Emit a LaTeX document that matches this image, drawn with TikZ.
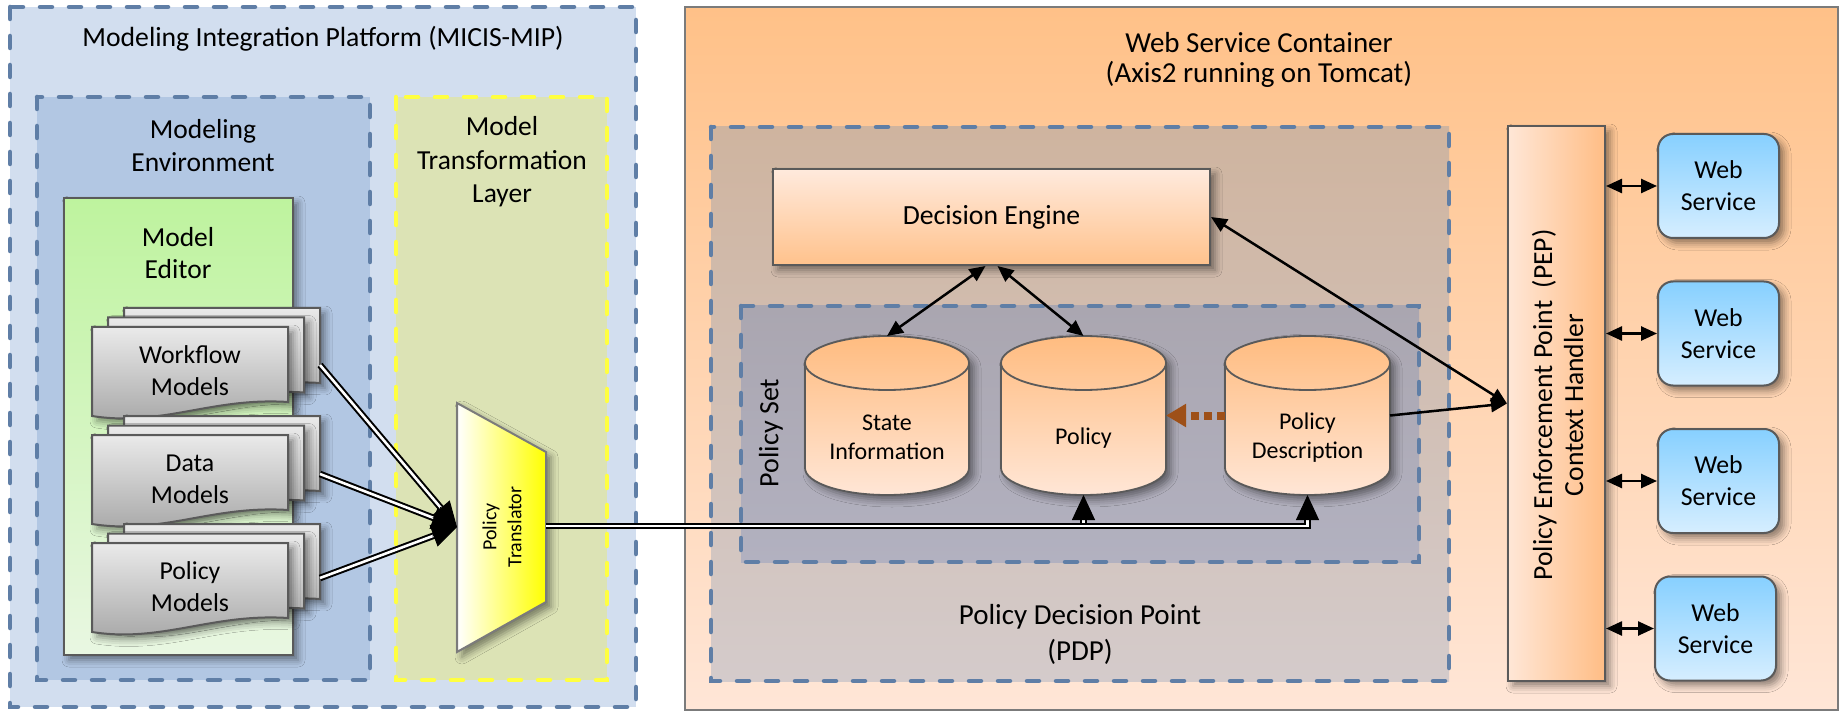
\documentclass[tikz,border=0pt]{standalone}
\usepackage{fontspec}
\setmainfont{Carlito}
\usetikzlibrary{arrows.meta,calc,shadows.blur}
\definecolor{dashblue}{RGB}{95,126,166}
\definecolor{mipfill}{RGB}{210,222,239}
\definecolor{envfill}{RGB}{178,199,227}
\definecolor{mtlfill}{RGB}{220,227,181}
\definecolor{mtlborder}{RGB}{255,255,64}
\definecolor{edtop}{RGB}{190,243,158}
\definecolor{edbot}{RGB}{233,247,226}
\definecolor{wctop}{RGB}{255,193,136}
\definecolor{wcbot}{RGB}{255,230,215}
\definecolor{pdptop}{RGB}{207,180,159}
\definecolor{pdpbot}{RGB}{212,203,203}
\definecolor{pstop}{RGB}{170,166,176}
\definecolor{psbot}{RGB}{178,177,192}
\definecolor{detop}{RGB}{255,234,221}
\definecolor{debot}{RGB}{255,194,140}
\definecolor{cyltop}{RGB}{255,188,128}
\definecolor{cylbot}{RGB}{255,230,214}
\definecolor{peplft}{RGB}{255,231,215}
\definecolor{peprgt}{RGB}{255,189,133}
\definecolor{wstop}{RGB}{135,208,255}
\definecolor{wsbot}{RGB}{214,238,255}
\definecolor{doctop}{RGB}{234,234,234}
\definecolor{docbot}{RGB}{165,165,165}
\definecolor{darrow}{RGB}{158,80,24}
\definecolor{edge}{RGB}{90,90,90}
\newcommand\fsz[2]{\fontsize{#1}{#2}\selectfont}
\tikzset{
  dashbox/.style={draw=dashblue, line width=4.5pt, dash pattern=on 12pt off 17pt, line cap=round},
  softshadow/.style={blur shadow={shadow xshift=5pt, shadow yshift=-5pt, shadow blur radius=7pt, shadow opacity=45}},
  lbl/.style={inner sep=0pt, align=center, text=black},
  anchorbox/.style={inner sep=0pt, outer sep=0pt, rectangle},
  docstyle/.style={top color=doctop, bottom color=docbot, draw=edge, line width=2pt, softshadow},
  cylstyle/.style={top color=cyltop, bottom color=cylbot, draw=edge, line width=1.8pt, softshadow},
  wsbox/.style={rectangle, rounded corners=15pt, top color=wstop, bottom color=wsbot, draw=edge, line width=2pt,
     minimum width=121pt, minimum height=104pt, inner sep=0pt, align=center, font=\fsz{25.8}{32}, softshadow},
  arr/.style={line width=2.5pt, draw=black, {Triangle[length=16pt,width=14pt]}-{Triangle[length=16pt,width=14pt]}},
  arrone/.style={line width=2.5pt, draw=black, -{Triangle[length=16pt,width=14pt]}},
  dbl/.style={draw=black, double=white, line width=2pt, double distance=2.6pt},
  bigtip/.style={line width=1pt, draw=black, fill=black, -{Triangle[length=25pt,width=23pt]}},
  brownarr/.style={draw=darrow, line width=8pt, dash pattern=on 8pt off 5pt, -{Triangle[length=20pt,width=22pt]}}
}
\newcommand\docshape[2]{%
  \path[docstyle] ({#1},{#2}) -- ({#1+196},{#2}) -- ({#1+196},{#2+75})
    .. controls ({#1+120},{#2+70}) and ({#1+70},{#2+100}) .. ({#1},{#2+89}) -- cycle;}
\newcommand\docstack[2]{%
  \docshape{#1+32}{#2-19}\docshape{#1+16}{#2-9.5}\docshape{#1}{#2}}
\newcommand\cylshape[4]{%
  \path[cylstyle] ({#1-#2},{#3+27}) -- ({#1-#2},{#4-27})
    .. controls ({#1-#2},{#4-27+14.9}) and ({#1-0.5523*#2},{#4}) .. ({#1},{#4})
    .. controls ({#1+0.5523*#2},{#4}) and ({#1+#2},{#4-27+14.9}) .. ({#1+#2},{#4-27})
    -- ({#1+#2},{#3+27})
    .. controls ({#1+#2},{#3+27-14.9}) and ({#1+0.5523*#2},{#3}) .. ({#1},{#3})
    .. controls ({#1-0.5523*#2},{#3}) and ({#1-#2},{#3+27-14.9}) .. cycle;
  \draw[draw=edge, line width=1.8pt] ({#1-#2},{#3+27})
    .. controls ({#1-#2},{#3+27+14.9}) and ({#1-0.5523*#2},{#3+54}) .. ({#1},{#3+54})
    .. controls ({#1+0.5523*#2},{#3+54}) and ({#1+#2},{#3+27+14.9}) .. ({#1+#2},{#3+27});}
\begin{document}
\begin{tikzpicture}[x=1pt,y=-1pt]
\useasboundingbox (0,0) rectangle (1845,711);
\fill[white] (0,0) rectangle (1845,711);

% ---------------- Modeling Integration Platform ----------------
\path[fill=mipfill, dashbox] (10,7) rectangle (636,707);
\node[lbl, font=\fsz{27.7}{33}] (miptitle) at (323,39) {Modeling Integration Platform (MICIS-MIP)};
\path[fill=envfill, dashbox] (37,97) rectangle (370,680);
\node[lbl, font=\fsz{27.5}{33}] (envtitle) at (203,146) {Modeling\\Environment};
\path[fill=mtlfill, dashbox, draw=mtlborder] (396,97) rectangle (607,680);
\node[lbl, font=\fsz{27.5}{33.5}] (mtltitle) at (502,162) {Model\\Transformation\\Layer};
\path[top color=edtop, bottom color=edbot, draw=edge, line width=2pt, softshadow] (64,198) rectangle (293,655);
\node[lbl, font=\fsz{27.5}{32}] (edtitle) at (178,253) {Model\\Editor};

\docstack{92}{327}
\node[lbl, font=\fsz{25.8}{32}] (wfm) at (190,371) {Workflow\\Models};
\docstack{92}{435}
\node[lbl, font=\fsz{25.8}{32}] (dm) at (190,479) {Data\\Models};
\docstack{92}{543}
\node[lbl, font=\fsz{25.8}{32}] (pm) at (190,587) {Policy\\Models};
\coordinate (wfout) at (320,365);
\coordinate (dmout) at (320,474);
\coordinate (pmout) at (320,578);

\path[left color=white, right color=yellow, draw=edge!80, line width=2pt, softshadow]
  (457,403) -- (546,452) -- (546,602) -- (457,652) -- cycle;
\node[lbl, rotate=90, font=\fsz{20}{25}] (trans) at (502,527) {Policy\\Translator};
\coordinate (trL) at (457,527);
\coordinate (trR) at (546,526);

% ---------------- Web Service Container ----------------
\path[top color=wctop, bottom color=wcbot, draw=edge!80, line width=2pt] (685,7) rectangle (1838,710);
\node[lbl, font=\fsz{29}{30}] (wctitle) at (1259,60) {Web Service Container\\(Axis2 running on Tomcat)};
\path[top color=pdptop, bottom color=pdpbot, dashbox] (711,127) rectangle (1449,681);
\node[lbl, font=\fsz{29}{36}] (pdptitle) at (1080,634) {Policy Decision Point\\(PDP)};
\path[top color=pstop, bottom color=psbot, dashbox] (741,306) rectangle (1419,562);
\node[lbl, rotate=90, font=\fsz{28}{33}] (pstitle) at (771,433) {Policy Set};

\node[rectangle, top color=detop, bottom color=debot, draw=edge, line width=2pt, minimum width=437pt,
  minimum height=96pt, inner sep=0pt, font=\fsz{27.7}{33}, softshadow] (de) at (991.5,217) {Decision Engine};

\cylshape{887}{82}{336}{495}
\cylshape{1083.5}{82.5}{336}{495}
\cylshape{1307.5}{82.5}{336}{495}
\node[anchorbox, minimum width=164pt, minimum height=159pt] (cyl1) at (887,415.5) {};
\node[anchorbox, minimum width=165pt, minimum height=159pt] (cyl2) at (1083.5,415.5) {};
\node[anchorbox, minimum width=165pt, minimum height=159pt] (cyl3) at (1307.5,415.5) {};
\node[lbl, font=\fsz{24}{29}] (cyl1t) at (887,437.5) {State\\Information};
\node[lbl, font=\fsz{24}{29}] (cyl2t) at (1083.5,438) {Policy};
\node[lbl, font=\fsz{24}{29}] (cyl3t) at (1307.5,437.5) {Policy\\Description};

\node[rectangle, left color=peplft, right color=peprgt, draw=edge, line width=2pt, minimum width=97pt,
  minimum height=555pt, inner sep=0pt, softshadow] (pep) at (1556.5,403.5) {};
\node[lbl, rotate=90, font=\fsz{27.6}{31}] (pept) at (1557.5,405) {Policy Enforcement Point\ \ (PEP)\\Context Handler};

\node[wsbox] (ws1) at (1718.5,186) {Web\\Service};
\node[wsbox] (ws2) at (1718.5,333.5) {Web\\Service};
\node[wsbox] (ws3) at (1718.5,481) {Web\\Service};
\node[wsbox] (ws4) at (1715.5,628.5) {Web\\Service};

% ---------------- connectors ----------------
\draw[dbl, shorten >=18pt] (wfout) -- (trL);
\draw[dbl, shorten >=18pt] (dmout) -- (trL);
\draw[dbl, shorten >=18pt] (pmout) -- (trL);
\draw[bigtip] ($(trL)!26pt!(wfout)$) -- (trL);
\draw[bigtip] ($(trL)!26pt!(dmout)$) -- (trL);
\draw[bigtip] ($(trL)!26pt!(pmout)$) -- (trL);

\draw[dbl, shorten >=16pt] (trR) -| (cyl2.south);
\draw[dbl, shorten >=16pt] (trR) -| (cyl3.south);
\draw[bigtip] ([yshift=-23pt]cyl2.south) -- (cyl2.south);
\draw[bigtip] ([yshift=-23pt]cyl3.south) -- (cyl3.south);

\draw[arr] ([xshift=-6pt]de.south) -- (cyl1.north);
\draw[arr] ([xshift=6pt]de.south) -- (cyl2.north);
\draw[arr] (de.east) -- (pep.west);
\draw[arrone] (cyl3.east) -- (pep.west);
\draw[brownarr] (cyl3.west) -- (cyl2.east);

\draw[arr] (pep.east |- ws1.west) -- (ws1.west);
\draw[arr] (pep.east |- ws2.west) -- (ws2.west);
\draw[arr] (pep.east |- ws3.west) -- (ws3.west);
\draw[arr] (pep.east |- ws4.west) -- (ws4.west);
\end{tikzpicture}
\end{document}
